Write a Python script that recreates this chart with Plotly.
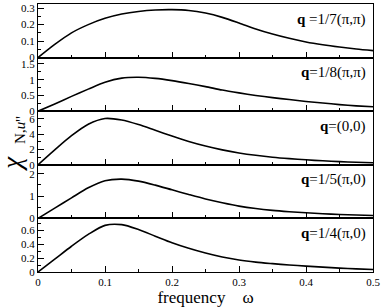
import plotly.graph_objects as go
from plotly.subplots import make_subplots

omega = [0, 0.025, 0.05, 0.075, 0.1, 0.125, 0.15, 0.175, 0.2, 0.225, 0.25,
         0.275, 0.3, 0.325, 0.35, 0.375, 0.4, 0.425, 0.45, 0.475, 0.5]

chi_q17pp = [0, 0.08, 0.15, 0.2, 0.238, 0.264, 0.28, 0.289, 0.291, 0.286, 0.27,
             0.244, 0.21, 0.174, 0.143, 0.117, 0.095, 0.078, 0.064, 0.052, 0.042]
chi_q18pp = [0, 0.23, 0.47, 0.7, 0.92, 1.05, 1.075, 1.04, 0.97, 0.88, 0.78,
             0.67, 0.58, 0.5, 0.43, 0.37, 0.31, 0.26, 0.21, 0.17, 0.14]
chi_q00 = [0, 1.95, 3.8, 5.3, 6.05, 5.85, 5.25, 4.5, 3.75, 3.05, 2.45,
           1.95, 1.55, 1.24, 0.99, 0.8, 0.65, 0.52, 0.42, 0.33, 0.27]
chi_q15p0 = [0, 0.46, 0.92, 1.37, 1.69, 1.76, 1.67, 1.49, 1.28, 1.07, 0.87,
             0.7, 0.55, 0.44, 0.36, 0.3, 0.25, 0.21, 0.175, 0.15, 0.13]
chi_q14p0 = [0, 0.185, 0.37, 0.54, 0.67, 0.68, 0.61, 0.515, 0.42, 0.34, 0.272,
             0.215, 0.172, 0.142, 0.12, 0.1, 0.085, 0.07, 0.056, 0.045, 0.035]

series = [chi_q17pp, chi_q18pp, chi_q00, chi_q15p0, chi_q14p0]
labels = ["<b>q</b> =1/7(π,π)", "<b>q</b>=1/8(π,π)", "<b>q</b>=(0,0)",
          "<b>q</b>=1/5(π,0)", "<b>q</b>=1/4(π,0)"]
y_ranges = [[0, 0.325], [0, 1.7], [0, 7], [0, 2.4], [0, 0.77]]
y_dticks = [0.1, 0.5, 2, 1, 0.2]
y_minor = [0.05, 0.25, 1, 0.5, 0.1]
x_ticks = [0, 0.1, 0.2, 0.3, 0.4, 0.5]

FONT = "Liberation Serif"

fig = make_subplots(rows=5, cols=1, shared_xaxes=True, vertical_spacing=0)

for i, ys in enumerate(series):
    r = i + 1
    fig.add_trace(go.Scatter(x=omega, y=ys, mode="lines",
                             line=dict(color="black", width=1.6, shape="spline",
                                       smoothing=0.8),
                             showlegend=False, hoverinfo="skip"), row=r, col=1)
    fig.update_yaxes(range=y_ranges[i], dtick=y_dticks[i], tick0=0,
                     ticks="inside", ticklen=6, tickwidth=1.2, tickcolor="black",
                     minor=dict(dtick=y_minor[i], ticks="inside", ticklen=3,
                                tickcolor="black", tickwidth=1),
                     showline=True, linecolor="black", linewidth=1.2, mirror=True,
                     showgrid=False, zeroline=False,
                     tickfont=dict(family=FONT, size=11, color="black"),
                     row=r, col=1)
    fig.update_xaxes(range=[0, 0.5], tickvals=x_ticks,
                     ticks="inside", ticklen=6, tickwidth=1.2, tickcolor="black",
                     minor=dict(dtick=0.05, ticks="inside", ticklen=3,
                                tickcolor="black", tickwidth=1),
                     showline=True, linecolor="black", linewidth=1.2, mirror=True,
                     showgrid=False, zeroline=False,
                     showticklabels=(r == 5),
                     tickfont=dict(family=FONT, size=11, color="black"),
                     row=r, col=1)
    yref = "y domain" if r == 1 else f"y{r} domain"
    fig.add_annotation(text=labels[i], xref="x domain", yref=yref,
                       x=0.985, y=0.72, xanchor="right", yanchor="middle",
                       showarrow=False,
                       font=dict(family=FONT, size=15, color="black"))

fig.update_xaxes(title=dict(text="frequency    ω", standoff=2,
                            font=dict(family=FONT, size=17, color="black")),
                 row=5, col=1)

# y-axis label  χ''_{N,u}  built from rotated pieces
fig.add_annotation(text="<i>χ</i>", xref="paper", yref="paper",
                   x=-0.077, y=0.405, textangle=-90, showarrow=False,
                   xanchor="center", yanchor="middle",
                   font=dict(family=FONT, size=27, color="black"))
fig.add_annotation(text="N,<i>u</i>", xref="paper", yref="paper",
                   x=-0.056, y=0.52, textangle=-90, showarrow=False,
                   xanchor="center", yanchor="middle",
                   font=dict(family=FONT, size=15, color="black"))
fig.add_annotation(text="''", xref="paper", yref="paper",
                   x=-0.05, y=0.572, textangle=-90, showarrow=False,
                   xanchor="center", yanchor="middle",
                   font=dict(family=FONT, size=16, color="black"))

fig.update_layout(width=382, height=308,
                  margin=dict(l=38, r=9, t=2, b=36),
                  plot_bgcolor="white", paper_bgcolor="white")

fig.write_html("out.html", config={"displayModeBar": False},
               post_script="document.body.style.margin='0';document.body.style.padding='0';")
